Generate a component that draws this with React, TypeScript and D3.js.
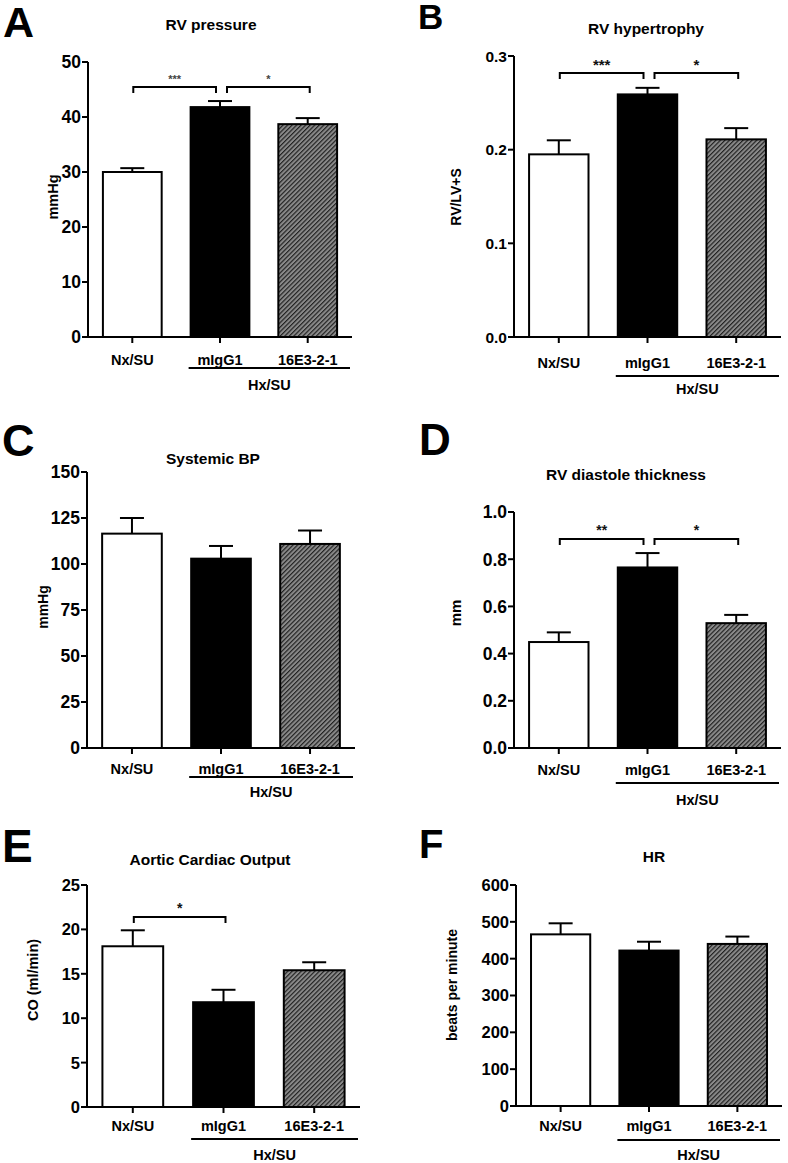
import React from "react";
import * as d3 from "d3";

// ---------- DATA ----------
const categories = ["Nx/SU", "mIgG1", "16E3-2-1"];
const groupLabel = "Hx/SU";

const rvPressureMean = [30.0, 41.8, 38.7];
const rvPressureSem = [0.7, 1.1, 1.1];
const rvPressureTicks = [0, 10, 20, 30, 40, 50];
const rvPressureSig: [number, number, string][] = [[0, 1, "***"], [1, 2, "*"]];

const rvHypertrophyMean = [0.195, 0.259, 0.211];
const rvHypertrophySem = [0.015, 0.007, 0.012];
const rvHypertrophyTicks = [0, 0.1, 0.2, 0.3];
const rvHypertrophySig: [number, number, string][] = [[0, 1, "***"], [1, 2, "*"]];

const systemicBpMean = [116.5, 102.9, 110.9];
const systemicBpSem = [8.5, 6.9, 7.3];
const systemicBpTicks = [0, 25, 50, 75, 100, 125, 150];
const systemicBpSig: [number, number, string][] = [];

const rvThicknessMean = [0.449, 0.765, 0.529];
const rvThicknessSem = [0.041, 0.061, 0.035];
const rvThicknessTicks = [0, 0.2, 0.4, 0.6, 0.8, 1.0];
const rvThicknessSig: [number, number, string][] = [[0, 1, "**"], [1, 2, "*"]];

const cardiacOutputMean = [18.1, 11.8, 15.4];
const cardiacOutputSem = [1.8, 1.4, 0.9];
const cardiacOutputTicks = [0, 5, 10, 15, 20, 25];
const cardiacOutputSig: [number, number, string][] = [[0, 1, "*"]];

const heartRateMean = [466, 422, 440];
const heartRateSem = [30, 24, 20];
const heartRateTicks = [0, 100, 200, 300, 400, 500, 600];
const heartRateSig: [number, number, string][] = [];

// ---------- LAYOUT ----------
const FONT = "Arial, 'Liberation Sans', Helvetica, sans-serif";

const panels = [
  {
    letter: "A", letterX: 3, letterY: 37, letterSize: 43,
    title: "RV pressure", titleX: 211, titleY: 30, titleSize: 15.5,
    yLabel: "mmHg", yLabelX: 58, yLabelY: 197, yLabelSize: 14.5,
    mean: rvPressureMean, sem: rvPressureSem, ticks: rvPressureTicks, fmt: d3.format("d"), sig: rvPressureSig,
    x0: 88, x1: 352, y0: 337, y1: 62, tickSize: 17.5,
    catDy: 28, hxY: 368, hxTextY: 390, bracketY: 87, starSize: 11, starColor: "#444", starDy: 4,
  },
  {
    letter: "B", letterX: 418, letterY: 29, letterSize: 35,
    title: "RV hypertrophy", titleX: 646, titleY: 34, titleSize: 15.5,
    yLabel: "RV/LV+S", yLabelX: 461, yLabelY: 197, yLabelSize: 14,
    mean: rvHypertrophyMean, sem: rvHypertrophySem, ticks: rvHypertrophyTicks, fmt: d3.format(".1f"), sig: rvHypertrophySig,
    x0: 514, x1: 781, y0: 337, y1: 56, tickSize: 15.5,
    catDy: 31, hxY: 376, hxTextY: 394, bracketY: 73, starSize: 15, starColor: "#111", starDy: 3,
  },
  {
    letter: "C", letterX: 2, letterY: 456, letterSize: 45,
    title: "Systemic BP", titleX: 213, titleY: 464, titleSize: 15.5,
    yLabel: "mmHg", yLabelX: 48, yLabelY: 607, yLabelSize: 14,
    mean: systemicBpMean, sem: systemicBpSem, ticks: systemicBpTicks, fmt: d3.format("d"), sig: systemicBpSig,
    x0: 87, x1: 355, y0: 748, y1: 472, tickSize: 17.5,
    catDy: 26, hxY: 777, hxTextY: 797, bracketY: 0, starSize: 14, starColor: "#111", starDy: 3,
  },
  {
    letter: "D", letterX: 419, letterY: 455, letterSize: 44,
    title: "RV diastole thickness", titleX: 626, titleY: 480, titleSize: 15.5,
    yLabel: "mm", yLabelX: 461, yLabelY: 613, yLabelSize: 15,
    mean: rvThicknessMean, sem: rvThicknessSem, ticks: rvThicknessTicks, fmt: d3.format(".1f"), sig: rvThicknessSig,
    x0: 514, x1: 781, y0: 748, y1: 512, tickSize: 17.5,
    catDy: 27, hxY: 783, hxTextY: 805, bracketY: 539, starSize: 14, starColor: "#111", starDy: 4,
  },
  {
    letter: "E", letterX: 2, letterY: 862, letterSize: 46,
    title: "Aortic Cardiac Output", titleX: 210, titleY: 865, titleSize: 15.5,
    yLabel: "CO (ml/min)", yLabelX: 38, yLabelY: 980, yLabelSize: 14.5,
    mean: cardiacOutputMean, sem: cardiacOutputSem, ticks: cardiacOutputTicks, fmt: d3.format("d"), sig: cardiacOutputSig,
    x0: 87, x1: 360, y0: 1107, y1: 885, tickSize: 16.5,
    catDy: 24, hxY: 1139, hxTextY: 1160, bracketY: 917, starSize: 14, starColor: "#111", starDy: 4,
  },
  {
    letter: "F", letterX: 419, letterY: 858, letterSize: 40,
    title: "HR", titleX: 654, titleY: 862, titleSize: 15.5,
    yLabel: "beats per minute", yLabelX: 457, yLabelY: 985, yLabelSize: 14,
    mean: heartRateMean, sem: heartRateSem, ticks: heartRateTicks, fmt: d3.format("d"), sig: heartRateSig,
    x0: 516, x1: 782, y0: 1106, y1: 885, tickSize: 16.5,
    catDy: 25, hxY: 1140, hxTextY: 1160, bracketY: 0, starSize: 14, starColor: "#111", starDy: 4,
  },
];

function Panel({ p }: { p: any }) {
  const x = d3.scaleBand<string>().domain(categories).range([p.x0, p.x1]).paddingInner(0.33).paddingOuter(0.17);
  const domainMax = p.ticks[p.ticks.length - 1];
  const y = d3.scaleLinear().domain([0, domainMax]).range([p.y0, p.y1]);
  const bw = x.bandwidth();
  const cx = (i: number) => (x(categories[i]) as number) + bw / 2;
  const fills = ["#fff", "#000", "url(#hatch)"];
  const capW = 24;
  return (
    <g fontFamily={FONT} fontWeight="bold">
      <text x={p.letterX} y={p.letterY} fontSize={p.letterSize} fill="#000">{p.letter}</text>
      <text x={p.titleX} y={p.titleY} fontSize={p.titleSize} textAnchor="middle" fill="#000">{p.title}</text>
      <text
        transform={`translate(${p.yLabelX},${p.yLabelY}) rotate(-90)`}
        fontSize={p.yLabelSize}
        textAnchor="middle"
        fill="#000"
      >
        {p.yLabel}
      </text>
      {/* error bars */}
      {p.mean.map((m: number, i: number) => (
        <g key={"e" + i} stroke="#000" strokeWidth={2}>
          <line x1={cx(i)} x2={cx(i)} y1={y(m)} y2={y(m + p.sem[i])} />
          <line x1={cx(i) - capW / 2} x2={cx(i) + capW / 2} y1={y(m + p.sem[i])} y2={y(m + p.sem[i])} />
        </g>
      ))}
      {/* bars */}
      {p.mean.map((m: number, i: number) => (
        <rect
          key={"b" + i}
          x={x(categories[i])}
          y={y(m)}
          width={bw}
          height={y(0) - y(m)}
          fill={fills[i]}
          stroke="#000"
          strokeWidth={2}
        />
      ))}
      {/* y axis */}
      <line x1={p.x0} x2={p.x0} y1={y(0) + 1} y2={y(domainMax)} stroke="#000" strokeWidth={2} />
      {p.ticks.map((t: number) => (
        <g key={"t" + t}>
          <line x1={p.x0 - 6} x2={p.x0} y1={y(t)} y2={y(t)} stroke="#000" strokeWidth={2} />
          <text x={p.x0 - 7} y={y(t)} dy="0.36em" textAnchor="end" fontSize={p.tickSize} fill="#000">
            {p.fmt(t)}
          </text>
        </g>
      ))}
      {/* x axis */}
      <line x1={p.x0 - 1} x2={p.x1} y1={y(0)} y2={y(0)} stroke="#000" strokeWidth={2} />
      {categories.map((c, i) => (
        <g key={"c" + i}>
          <line x1={cx(i)} x2={cx(i)} y1={y(0)} y2={y(0) + 6} stroke="#000" strokeWidth={2} />
          <text x={cx(i)} y={y(0) + p.catDy} textAnchor="middle" fontSize={14.5} fill="#000">{c}</text>
        </g>
      ))}
      {/* group line */}
      <line x1={(x(categories[1]) as number) - 2} x2={p.x1 - 2} y1={p.hxY} y2={p.hxY} stroke="#000" strokeWidth={2} />
      <text
        x={((x(categories[1]) as number) - 2 + p.x1 - 2) / 2}
        y={p.hxTextY}
        textAnchor="middle"
        fontSize={14.5}
        fill="#000"
      >
        {groupLabel}
      </text>
      {/* significance brackets */}
      {p.sig.map((s: [number, number, string], k: number) => {
        const shared = p.sig.some((o: [number, number, string]) => o[1] === s[0]);
        const sharedEnd = p.sig.some((o: [number, number, string]) => o[0] === s[1]);
        const xa = cx(s[0]) + (shared ? 7 : 1);
        const xb = cx(s[1]) + (sharedEnd ? -4 : 2);
        const by = p.bracketY;
        return (
          <g key={"s" + k}>
            <path d={`M${xa},${by + 6}V${by}H${xb}V${by + 6}`} fill="none" stroke="#000" strokeWidth={2} />
            <text x={(xa + xb) / 2} y={by - p.starDy} textAnchor="middle" fontSize={p.starSize} fill={p.starColor}>
              {s[2]}
            </text>
          </g>
        );
      })}
    </g>
  );
}

export default function App() {
  return (
    <svg
      width={788}
      height={1163}
      viewBox="0 0 788 1163"
      style={{ position: "absolute", left: 0, top: 0, background: "#fff" }}
    >
      <defs>
        <pattern id="hatch" patternUnits="userSpaceOnUse" width={4} height={3.2} patternTransform="rotate(-45)">
          <rect width={4} height={3.2} fill="#8a8a8a" />
          <line x1={0} x2={4} y1={0.6} y2={0.6} stroke="#1a1a1a" strokeWidth={1.1} />
        </pattern>
      </defs>
      <rect width={788} height={1163} fill="#fff" />
      {panels.map((p, i) => (
        <Panel key={i} p={p} />
      ))}
    </svg>
  );
}
